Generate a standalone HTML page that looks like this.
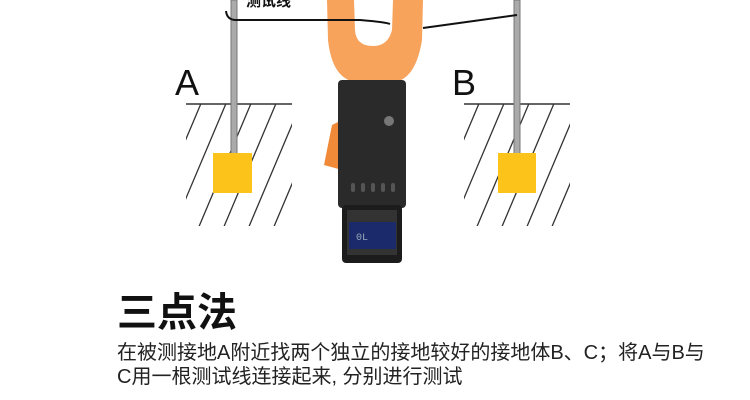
<!DOCTYPE html>
<html><head><meta charset="utf-8"><style>
body{margin:0;width:750px;height:400px;background:#fff;overflow:hidden;position:relative;font-family:"Liberation Sans","Noto Sans CJK SC",sans-serif}
.t{position:absolute;left:117px;top:289px;font-size:40px;font-weight:bold;color:#111;line-height:48px}
.p{position:absolute;left:117px;top:341px;font-size:20px;color:#222;line-height:24px;white-space:nowrap}
</style></head><body>
<svg width="750" height="280" style="position:absolute;left:0;top:0">
<defs><clipPath id="ca"><rect x="186" y="104" width="106" height="122"/></clipPath>
<clipPath id="cb"><rect x="464" y="104" width="106" height="122"/></clipPath></defs>
<g stroke="#333" stroke-width="1.3" clip-path="url(#ca)">
<line x1="170" y1="236" x2="230" y2="94"/><line x1="195" y1="236" x2="255" y2="94"/><line x1="220" y1="236" x2="280" y2="94"/><line x1="245" y1="236" x2="305" y2="94"/><line x1="270" y1="236" x2="330" y2="94"/><line x1="145" y1="236" x2="205" y2="94"/></g>
<g stroke="#333" stroke-width="1.3" clip-path="url(#cb)">
<line x1="448" y1="236" x2="508" y2="94"/><line x1="473" y1="236" x2="533" y2="94"/><line x1="498" y1="236" x2="558" y2="94"/><line x1="523" y1="236" x2="583" y2="94"/><line x1="548" y1="236" x2="608" y2="94"/><line x1="423" y1="236" x2="483" y2="94"/></g>
<line x1="186" y1="104" x2="292" y2="104" stroke="#333" stroke-width="1.5"/>
<line x1="464" y1="104" x2="570" y2="104" stroke="#333" stroke-width="1.5"/>
<rect x="231" y="0" width="6" height="154" fill="#aaa" stroke="#777" stroke-width="1"/>
<rect x="514" y="0" width="6" height="154" fill="#aaa" stroke="#777" stroke-width="1"/>
<rect x="213" y="153" width="39" height="40" fill="#fcc31a"/>
<rect x="498" y="153" width="38" height="40" fill="#fcc31a"/>
<text x="175" y="95" font-size="36" font-family="Liberation Sans" fill="#111">A</text>
<text x="452" y="95" font-size="36" font-family="Liberation Sans" fill="#111">B</text>
<text x="246" y="6" font-size="15" font-family="Liberation Sans,Noto Sans CJK SC,sans-serif" font-weight="bold" fill="#111">测试线</text>
<path d="M327 0 L423 0 L422 40 Q416 78 395 82 L355 82 Q332 78 328 40 Z" fill="#f7a35c"/>
<path d="M354 0 L393 0 L392 30 Q388 46 373 46 Q356 46 355 30 Z" fill="#fff"/>
<path d="M324 165 L332 125 L342 120 L342 170 Z" fill="#f08a38"/>
<rect x="338" y="80" width="68" height="128" rx="4" fill="#2a2a2a"/>
<rect x="342" y="205" width="60" height="58" rx="4" fill="#1c1c1c"/>
<rect x="347" y="210" width="50" height="45" fill="#333"/>
<rect x="349" y="222" width="47" height="27" fill="#1a2a6a"/>
<text x="356" y="240" font-size="10" fill="#9ab" font-family="Liberation Mono">0L</text>
<circle cx="389" cy="121" r="5" fill="#777"/>
<g fill="#555"><rect x="351" y="183" width="4" height="9" rx="2"/><rect x="361" y="183" width="4" height="9" rx="2"/><rect x="371" y="183" width="4" height="9" rx="2"/><rect x="381" y="183" width="4" height="9" rx="2"/><rect x="391" y="183" width="4" height="9" rx="2"/></g>
<path d="M226 11 Q227 20 236 20 L360 20 Q385 22 390 24" stroke="#111" stroke-width="2" fill="none"/>
<path d="M423 28 L517 15" stroke="#111" stroke-width="2" fill="none"/>
</svg>
<div class="t">三点法</div>
<div class="p">在被测接地A附近找两个独立的接地较好的接地体B、C；将A与B与<br>C用一根测试线连接起来, 分别进行测试</div>
</body></html>
